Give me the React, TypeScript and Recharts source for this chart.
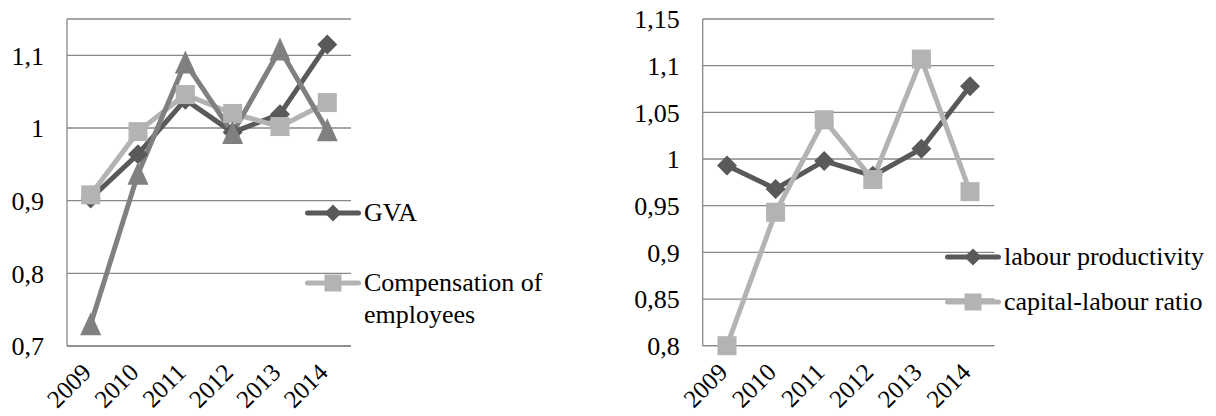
import { LineChart, Line, XAxis, YAxis, CartesianGrid, Legend } from "recharts";

const years = ["2009", "2010", "2011", "2012", "2013", "2014"];

// left panel
const gva = [0.903, 0.964, 1.039, 0.994, 1.019, 1.115];
const compensation = [0.908, 0.995, 1.046, 1.02, 1.002, 1.035];
const employment = [0.73, 0.937, 1.09, 0.993, 1.108, 0.997];
const leftTicks = [0.7, 0.8, 0.9, 1, 1.1];
const leftLegendKeys = ["gva", "compensation"];

// right panel
const productivity = [0.993, 0.968, 0.998, 0.982, 1.011, 1.078];
const capitalLabour = [0.8, 0.943, 1.042, 0.978, 1.107, 0.965];
const rightTicks = [0.8, 0.85, 0.9, 0.95, 1, 1.05, 1.1, 1.15];
const rightLegendKeys = ["productivity", "capitalLabour"];

const leftData = years.map((year, i) => ({
  year,
  gva: gva[i],
  compensation: compensation[i],
  employment: employment[i],
}));

const rightData = years.map((year, i) => ({
  year,
  productivity: productivity[i],
  capitalLabour: capitalLabour[i],
}));

const DARK = "#595959";
const LIGHT = "#b3b3b3";
const MID = "#808080";
const GRID = "#888888";
const FONT = "'Liberation Serif', 'Times New Roman', serif";

const fmt = (v: number) => String(v).replace(".", ",");

const Diamond = ({ cx, cy, fill, size = 10 }: any) =>
  cx == null ? null : (
    <path d={`M${cx},${cy - size}L${cx + size},${cy}L${cx},${cy + size}L${cx - size},${cy}Z`} fill={fill} />
  );

const Square = ({ cx, cy, fill, size = 19 }: any) =>
  cx == null ? null : <rect x={cx - size / 2} y={cy - size / 2} width={size} height={size} fill={fill} />;

const Triangle = ({ cx, cy, fill }: any) =>
  cx == null ? null : (
    <path d={`M${cx},${cy - 12}L${cx + 10.5},${cy + 11}L${cx - 10.5},${cy + 11}Z`} fill={fill} />
  );

const YearTick = ({ x, y, payload }: any) => (
  <g transform={`translate(${x + 2},${y + 26})`}>
    <text transform="rotate(-45)" textAnchor="end" fontSize={25} fill="#000" style={{ fontFamily: FONT }}>
      {payload.value}
    </text>
  </g>
);

const LegendBox = ({ payload, tops, keys }: any) => {
  const entries = keys
    .map((k: string) => (payload || []).find((p: any) => p.dataKey === k))
    .filter(Boolean);
  return (
    <div style={{ position: "relative", fontFamily: FONT, fontSize: 26, color: "#000" }}>
      {entries.map((entry: any, i: number) => {
        const dark = entry.color === DARK;
        return (
          <div key={entry.value} style={{ position: "absolute", left: 0, top: tops[i] - 13, display: "flex", alignItems: "flex-start" }}>
            <svg width={56} height={26} style={{ flex: "none" }}>
              <line x1={2.5} y1={13} x2={53.5} y2={13} stroke={entry.color} strokeWidth={5} strokeLinecap="round" />
              {dark ? <Diamond cx={28} cy={13} size={8.5} fill={entry.color} /> : <Square cx={28} cy={13} size={17} fill={entry.color} />}
            </svg>
            <div style={{ marginLeft: 3, width: 240, lineHeight: "31.7px", marginTop: -3, whiteSpace: "normal" }}>{entry.value}</div>
          </div>
        );
      })}
    </div>
  );
};

const tickStyle = { fontSize: 26, fill: "#000", style: { fontFamily: FONT } };

export default function App() {
  return (
    <div style={{ position: "absolute", left: 0, top: 0, width: 1216, height: 416, background: "#fff", overflow: "hidden", fontFamily: FONT }}>
      <div style={{ position: "absolute", left: 0, top: 0 }}>
        <LineChart width={600} height={416} data={leftData} margin={{ top: 19, right: 249, bottom: 0, left: 0 }}>
          <CartesianGrid vertical={false} stroke={GRID} strokeWidth={1.3} />
          <XAxis
            dataKey="year"
            height={70}
            padding={{ left: 23.7, right: 23.7 }}
            axisLine={{ stroke: GRID, strokeWidth: 1.3 }}
            tickLine={false}
            tickSize={0}
            tick={<YearTick />}
            interval={0}
          />
          <YAxis
            width={67}
            domain={[0.7, 1.15]}
            ticks={leftTicks}
            tickFormatter={fmt}
            axisLine={{ stroke: GRID, strokeWidth: 1.3 }}
            tickLine={false}
            tickSize={0}
            tickMargin={23}
            tick={tickStyle}
            allowDataOverflow
          />
          <Legend
            layout="vertical"
            align="center"
            verticalAlign="middle"
            wrapperStyle={{ left: 305, top: 200, width: 290 }}
            content={<LegendBox tops={[13, 83]} keys={leftLegendKeys} />}
          />
          <Line dataKey="gva" name="GVA" stroke={DARK} strokeWidth={5} strokeLinejoin="round" dot={<Diamond fill={DARK} />} isAnimationActive={false} />
          <Line dataKey="compensation" name="Compensation of employees" stroke={LIGHT} strokeWidth={5} strokeLinejoin="round" dot={<Square fill={LIGHT} />} isAnimationActive={false} />
          <Line dataKey="employment" name="Employment" legendType="none" stroke={MID} strokeWidth={5} strokeLinejoin="round" dot={<Triangle fill={MID} />} isAnimationActive={false} />
        </LineChart>
      </div>
      <div style={{ position: "absolute", left: 600, top: 0 }}>
        <LineChart width={616} height={416} data={rightData} margin={{ top: 19, right: 221.7, bottom: 0, left: 0 }}>
          <CartesianGrid vertical={false} stroke={GRID} strokeWidth={1.3} />
          <XAxis
            dataKey="year"
            height={70.3}
            padding={{ left: 24.3, right: 24.3 }}
            axisLine={{ stroke: GRID, strokeWidth: 1.3 }}
            tickLine={false}
            tickSize={0}
            tick={<YearTick />}
            interval={0}
          />
          <YAxis
            width={102.7}
            domain={[0.8, 1.15]}
            ticks={rightTicks}
            tickFormatter={fmt}
            axisLine={{ stroke: GRID, strokeWidth: 1.3 }}
            tickLine={false}
            tickSize={0}
            tickMargin={23}
            tick={tickStyle}
          />
          <Legend
            layout="vertical"
            align="center"
            verticalAlign="middle"
            wrapperStyle={{ left: 345, top: 240, width: 270 }}
            content={<LegendBox tops={[16.5, 61.7]} keys={rightLegendKeys} />}
          />
          <Line dataKey="productivity" name="labour productivity" stroke={DARK} strokeWidth={5} strokeLinejoin="round" dot={<Diamond fill={DARK} />} isAnimationActive={false} />
          <Line dataKey="capitalLabour" name="capital-labour ratio" stroke={LIGHT} strokeWidth={5} strokeLinejoin="round" dot={<Square fill={LIGHT} />} isAnimationActive={false} />
        </LineChart>
      </div>
    </div>
  );
}
